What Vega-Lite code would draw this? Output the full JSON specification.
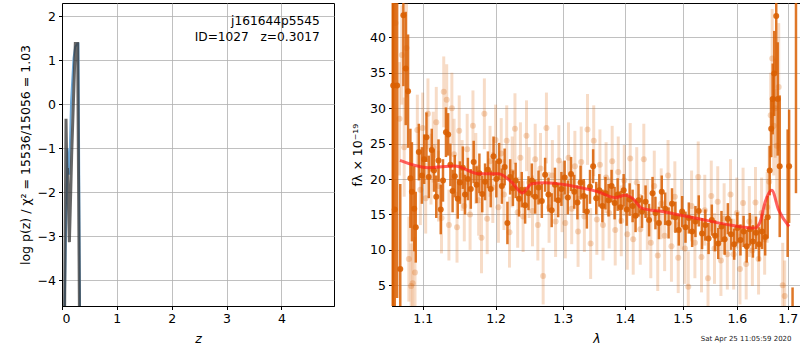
{
  "$schema": "https://vega.github.io/schema/vega-lite/v6.json",
  "padding": {"left": 18, "top": 1, "right": 1, "bottom": 2},
  "spacing": 16,
  "title": {"text": "Sat Apr 25 11:05:59 2020", "orient": "bottom", "anchor": "end", "fontSize": 7, "fontWeight": "normal", "font": "DejaVu Sans", "color": "#222222", "offset": -10, "dx": -10},
  "config": {
    "font": "DejaVu Sans",
    "view": {"stroke": "black", "strokeWidth": 1},
    "axis": {"labelFontSize": 12.5, "titleFontSize": 12.5, "labelColor": "black", "titleColor": "black", "titleFontWeight": "normal", "tickColor": "black", "domainColor": "black", "gridColor": "#b0b0b0", "gridWidth": 0.8, "tickSize": 3.5, "labelPadding": 3, "labelFont": "DejaVu Sans", "titleFont": "DejaVu Sans"}
  },
  "datasets": {
    "pzblue": [
      {"z": 0.03, "lp": -6}, {"z": 0.07, "lp": -3.1}, {"z": 0.1, "lp": -1.0}, {"z": 0.13, "lp": -1.6}, {"z": 0.165, "lp": 0.05}, {"z": 0.21, "lp": 1.05}, {"z": 0.24, "lp": 1.3}, {"z": 0.28, "lp": 1.38}, {"z": 0.30, "lp": 1.38}, {"z": 0.335, "lp": -6}
    ],
    "pzdark": [
      {"z": 0.04, "lp": -6}, {"z": 0.073, "lp": -0.33}, {"z": 0.09, "lp": -1.6}, {"z": 0.1, "lp": -1.45}, {"z": 0.135, "lp": -3.13}, {"z": 0.165, "lp": -1.7}, {"z": 0.176, "lp": -1.16}, {"z": 0.243, "lp": 1.38}, {"z": 0.285, "lp": 1.38}, {"z": 0.325, "lp": -6}
    ],
    "labels": [
      {"z": 4.7, "lp": 1.89, "t": "j161644p5545"},
      {"z": 4.7, "lp": 1.53, "t": "ID=1027\u00a0\u00a0\u00a0z=0.3017"}
    ],
    "model": [
      {"lam": 1.0706, "f": 22.64}, {"lam": 1.1075, "f": 21.6}, {"lam": 1.143, "f": 21.84}, {"lam": 1.176, "f": 20.75}, {"lam": 1.204, "f": 20.75}, {"lam": 1.223, "f": 19.58}, {"lam": 1.239, "f": 18.03}, {"lam": 1.253, "f": 19.34}, {"lam": 1.273, "f": 19.48}, {"lam": 1.304, "f": 19.2}, {"lam": 1.335, "f": 18.64}, {"lam": 1.357, "f": 18.17}, {"lam": 1.384, "f": 17.37}, {"lam": 1.4, "f": 17.7}, {"lam": 1.414, "f": 17.2}, {"lam": 1.428, "f": 15.9}, {"lam": 1.468, "f": 15.35}, {"lam": 1.529, "f": 14.4}, {"lam": 1.59, "f": 13.47}, {"lam": 1.635, "f": 13.09}, {"lam": 1.645, "f": 13.93}, {"lam": 1.655, "f": 16.76}, {"lam": 1.668, "f": 18.4}, {"lam": 1.682, "f": 15.6}, {"lam": 1.703, "f": 13.3}
    ],
    "offbars": [
      {"lam": 1.0615, "f": 30, "err": 40}, {"lam": 1.7, "f": 18, "err": 9}, {"lam": 1.71, "f": 3.2, "err": 1.5}, {"lam": 1.717, "f": 50, "err": 32}
    ],
    "dark": [
      {"lam": 1.062, "f": 33.2, "err": 40}, {"lam": 1.064, "f": 15.7, "err": 40}, {"lam": 1.067, "f": 33.2, "err": 30}, {"lam": 1.071, "f": 7.3, "err": 12}, {"lam": 1.075, "f": 43.1, "err": 10}, {"lam": 1.078, "f": 35.6, "err": 8}, {"lam": 1.081, "f": 32.4, "err": 8}, {"lam": 1.084, "f": 20.1, "err": 7}, {"lam": 1.086, "f": 18.2, "err": 7}, {"lam": 1.089, "f": 15.8, "err": 6}, {"lam": 1.091, "f": 13.2, "err": 5},
      {"lam": 1.095, "f": 23.8, "err": 4}, {"lam": 1.099, "f": 20.5, "err": 4}, {"lam": 1.102, "f": 22.8, "err": 3.5}, {"lam": 1.105, "f": 25.9, "err": 3.5}, {"lam": 1.108, "f": 20.3, "err": 3}, {"lam": 1.112, "f": 24.1, "err": 3}, {"lam": 1.115, "f": 21.2, "err": 3}, {"lam": 1.118, "f": 17.5, "err": 3}, {"lam": 1.121, "f": 22.6, "err": 3}, {"lam": 1.124, "f": 15.7, "err": 3.5}, {"lam": 1.127, "f": 19.8, "err": 3}, {"lam": 1.131, "f": 26.6, "err": 3.5}, {"lam": 1.134, "f": 26.3, "err": 3}, {"lam": 1.137, "f": 22.0, "err": 3}, {"lam": 1.14, "f": 18.3, "err": 3}, {"lam": 1.143, "f": 20.4, "err": 3}, {"lam": 1.147, "f": 17.2, "err": 2.8}, {"lam": 1.15, "f": 19.5, "err": 3}, {"lam": 1.154, "f": 21.6, "err": 3}, {"lam": 1.157, "f": 17.8, "err": 2.8}, {"lam": 1.161, "f": 20.0, "err": 3}, {"lam": 1.165, "f": 18.6, "err": 2.8}, {"lam": 1.169, "f": 22.4, "err": 3}, {"lam": 1.173, "f": 19.2, "err": 2.6}, {"lam": 1.177, "f": 20.8, "err": 2.8}, {"lam": 1.181, "f": 17.9, "err": 2.6}, {"lam": 1.185, "f": 19.6, "err": 2.6}, {"lam": 1.189, "f": 21.3, "err": 2.6}, {"lam": 1.193, "f": 18.6, "err": 2.6}, {"lam": 1.197, "f": 23.2, "err": 2.8}, {"lam": 1.201, "f": 20.0, "err": 2.6}, {"lam": 1.205, "f": 22.5, "err": 2.6}, {"lam": 1.209, "f": 19.0, "err": 2.5}, {"lam": 1.213, "f": 21.7, "err": 2.6}, {"lam": 1.217, "f": 13.8, "err": 3}, {"lam": 1.221, "f": 20.3, "err": 2.5}, {"lam": 1.225, "f": 18.7, "err": 2.5}, {"lam": 1.229, "f": 19.8, "err": 2.5}, {"lam": 1.234, "f": 17.2, "err": 2.5}, {"lam": 1.238, "f": 18.5, "err": 2.5}, {"lam": 1.243, "f": 16.3, "err": 2.6}, {"lam": 1.248, "f": 18.0, "err": 2.4}, {"lam": 1.253, "f": 19.8, "err": 2.4}, {"lam": 1.258, "f": 17.5, "err": 2.4}, {"lam": 1.263, "f": 18.8, "err": 2.4}, {"lam": 1.268, "f": 16.9, "err": 2.4}, {"lam": 1.273, "f": 20.6, "err": 2.4}, {"lam": 1.278, "f": 17.8, "err": 2.4}, {"lam": 1.283, "f": 15.6, "err": 2.4}, {"lam": 1.288, "f": 19.2, "err": 2.4}, {"lam": 1.293, "f": 17.0, "err": 2.4}, {"lam": 1.298, "f": 18.6, "err": 2.4}, {"lam": 1.303, "f": 20.2, "err": 2.4}, {"lam": 1.308, "f": 17.4, "err": 2.4}, {"lam": 1.313, "f": 20.7, "err": 2.4}, {"lam": 1.318, "f": 18.2, "err": 2.4}, {"lam": 1.323, "f": 16.7, "err": 2.4}, {"lam": 1.328, "f": 19.5, "err": 2.4}, {"lam": 1.333, "f": 17.6, "err": 2.4}, {"lam": 1.338, "f": 15.4, "err": 2.4}, {"lam": 1.343, "f": 18.9, "err": 2.4}, {"lam": 1.348, "f": 21.8, "err": 2.4}, {"lam": 1.353, "f": 17.3, "err": 2.3}, {"lam": 1.358, "f": 18.4, "err": 2.3}, {"lam": 1.363, "f": 16.2, "err": 2.3}, {"lam": 1.368, "f": 18.0, "err": 2.3}, {"lam": 1.373, "f": 17.0, "err": 2.3}, {"lam": 1.378, "f": 19.0, "err": 2.3}, {"lam": 1.383, "f": 16.6, "err": 2.3}, {"lam": 1.388, "f": 17.8, "err": 2.3}, {"lam": 1.393, "f": 16.0, "err": 2.3}, {"lam": 1.398, "f": 18.4, "err": 2.3}, {"lam": 1.403, "f": 15.7, "err": 2.3}, {"lam": 1.408, "f": 17.1, "err": 2.3}, {"lam": 1.413, "f": 16.2, "err": 2.3}, {"lam": 1.418, "f": 14.8, "err": 2.3}, {"lam": 1.423, "f": 17.0, "err": 2.3}, {"lam": 1.429, "f": 15.4, "err": 2.3}, {"lam": 1.435, "f": 16.8, "err": 2.3}, {"lam": 1.441, "f": 14.2, "err": 2.3}, {"lam": 1.447, "f": 18.0, "err": 2.3}, {"lam": 1.452, "f": 15.2, "err": 2.3}, {"lam": 1.458, "f": 13.8, "err": 2.3}, {"lam": 1.463, "f": 18.2, "err": 2.3}, {"lam": 1.469, "f": 15.8, "err": 2.3}, {"lam": 1.475, "f": 13.8, "err": 2.2}, {"lam": 1.481, "f": 16.5, "err": 2.2}, {"lam": 1.487, "f": 14.6, "err": 2.2}, {"lam": 1.493, "f": 12.8, "err": 2.2}, {"lam": 1.499, "f": 15.4, "err": 2.2}, {"lam": 1.505, "f": 13.2, "err": 2.2}, {"lam": 1.511, "f": 14.5, "err": 2.2}, {"lam": 1.517, "f": 12.6, "err": 2.2}, {"lam": 1.523, "f": 14.0, "err": 2.2}, {"lam": 1.529, "f": 15.5, "err": 2.2}, {"lam": 1.535, "f": 12.3, "err": 2.2}, {"lam": 1.541, "f": 13.5, "err": 2.2}, {"lam": 1.547, "f": 11.6, "err": 2.2}, {"lam": 1.553, "f": 14.2, "err": 2.2}, {"lam": 1.559, "f": 12.0, "err": 2.2}, {"lam": 1.565, "f": 10.9, "err": 2.2}, {"lam": 1.571, "f": 13.3, "err": 2.2}, {"lam": 1.577, "f": 11.5, "err": 2.2}, {"lam": 1.583, "f": 14.4, "err": 2.2}, {"lam": 1.589, "f": 12.2, "err": 2.2}, {"lam": 1.595, "f": 10.8, "err": 2.2}, {"lam": 1.601, "f": 13.1, "err": 2.2}, {"lam": 1.607, "f": 11.4, "err": 2.2}, {"lam": 1.613, "f": 12.6, "err": 2.2}, {"lam": 1.619, "f": 10.5, "err": 2.3}, {"lam": 1.625, "f": 12.9, "err": 2.3}, {"lam": 1.631, "f": 11.2, "err": 2.3}, {"lam": 1.637, "f": 12.4, "err": 2.3}, {"lam": 1.643, "f": 10.8, "err": 2.4}, {"lam": 1.649, "f": 12.6, "err": 2.5}, {"lam": 1.655, "f": 11.8, "err": 2.6}, {"lam": 1.66, "f": 14.6, "err": 3}, {"lam": 1.664, "f": 21.2, "err": 3.5}, {"lam": 1.667, "f": 27.1, "err": 4}, {"lam": 1.67, "f": 31.3, "err": 5}, {"lam": 1.673, "f": 34.9, "err": 6}, {"lam": 1.677, "f": 43.0, "err": 8}, {"lam": 1.68, "f": 31.3, "err": 8}, {"lam": 1.684, "f": 21.8, "err": 10}, {"lam": 1.703, "f": 21.8, "err": 8}
    ],
    "light": [
      {"lam": 1.065, "f": 42, "err": 8}, {"lam": 1.07, "f": 28.5, "err": 8}, {"lam": 1.073, "f": 37.5, "err": 7}, {"lam": 1.076, "f": 24.5, "err": 7}, {"lam": 1.079, "f": 38.5, "err": 7}, {"lam": 1.082, "f": 8.7, "err": 6}, {"lam": 1.085, "f": 4.9, "err": 6}, {"lam": 1.087, "f": 5.3, "err": 6}, {"lam": 1.09, "f": 6.8, "err": 5}, {"lam": 1.093, "f": 26.9, "err": 5}, {"lam": 1.097, "f": 18.5, "err": 5}, {"lam": 1.1, "f": 27.2, "err": 5}, {"lam": 1.104, "f": 17.3, "err": 5}, {"lam": 1.107, "f": 29.2, "err": 5}, {"lam": 1.111, "f": 21.4, "err": 5}, {"lam": 1.114, "f": 24.5, "err": 5}, {"lam": 1.118, "f": 28.0, "err": 5}, {"lam": 1.121, "f": 19.0, "err": 5}, {"lam": 1.125, "f": 14.5, "err": 5}, {"lam": 1.128, "f": 32.3, "err": 5}, {"lam": 1.132, "f": 31.2, "err": 5}, {"lam": 1.135, "f": 13.5, "err": 5}, {"lam": 1.139, "f": 30.0, "err": 5}, {"lam": 1.142, "f": 23.5, "err": 5}, {"lam": 1.146, "f": 13.2, "err": 5}, {"lam": 1.149, "f": 26.8, "err": 5}, {"lam": 1.153, "f": 20.5, "err": 5}, {"lam": 1.156, "f": 16.2, "err": 5}, {"lam": 1.16, "f": 24.2, "err": 5}, {"lam": 1.164, "f": 15.0, "err": 5}, {"lam": 1.168, "f": 27.5, "err": 5}, {"lam": 1.172, "f": 21.5, "err": 5}, {"lam": 1.176, "f": 17.0, "err": 5}, {"lam": 1.18, "f": 11.7, "err": 5}, {"lam": 1.184, "f": 29.2, "err": 5}, {"lam": 1.188, "f": 14.4, "err": 5}, {"lam": 1.192, "f": 22.5, "err": 5}, {"lam": 1.196, "f": 18.8, "err": 5}, {"lam": 1.2, "f": 25.5, "err": 5}, {"lam": 1.204, "f": 16.0, "err": 5}, {"lam": 1.208, "f": 23.6, "err": 5}, {"lam": 1.212, "f": 17.8, "err": 5}, {"lam": 1.216, "f": 25.4, "err": 5}, {"lam": 1.22, "f": 12.5, "err": 5}, {"lam": 1.224, "f": 21.0, "err": 5}, {"lam": 1.228, "f": 27.1, "err": 5}, {"lam": 1.232, "f": 15.3, "err": 5}, {"lam": 1.236, "f": 23.0, "err": 5}, {"lam": 1.24, "f": 14.7, "err": 5}, {"lam": 1.245, "f": 26.1, "err": 5}, {"lam": 1.249, "f": 19.5, "err": 5}, {"lam": 1.254, "f": 15.5, "err": 5}, {"lam": 1.258, "f": 22.8, "err": 5}, {"lam": 1.262, "f": 13.5, "err": 5}, {"lam": 1.266, "f": 21.5, "err": 5}, {"lam": 1.27, "f": 6.3, "err": 4}, {"lam": 1.275, "f": 27.2, "err": 5}, {"lam": 1.279, "f": 16.0, "err": 5}, {"lam": 1.284, "f": 20.5, "err": 5}, {"lam": 1.289, "f": 14.0, "err": 5}, {"lam": 1.294, "f": 22.6, "err": 5}, {"lam": 1.299, "f": 17.5, "err": 5}, {"lam": 1.304, "f": 13.8, "err": 5}, {"lam": 1.309, "f": 23.0, "err": 5}, {"lam": 1.314, "f": 15.8, "err": 5}, {"lam": 1.319, "f": 21.8, "err": 5}, {"lam": 1.324, "f": 12.6, "err": 5}, {"lam": 1.329, "f": 22.4, "err": 5}, {"lam": 1.334, "f": 14.7, "err": 5}, {"lam": 1.339, "f": 27.0, "err": 5}, {"lam": 1.344, "f": 10.9, "err": 5}, {"lam": 1.349, "f": 25.4, "err": 5}, {"lam": 1.354, "f": 14.3, "err": 5}, {"lam": 1.359, "f": 22.0, "err": 5}, {"lam": 1.364, "f": 13.5, "err": 5}, {"lam": 1.369, "f": 20.2, "err": 5}, {"lam": 1.374, "f": 15.2, "err": 5}, {"lam": 1.379, "f": 22.5, "err": 5}, {"lam": 1.384, "f": 12.8, "err": 5}, {"lam": 1.389, "f": 21.0, "err": 5}, {"lam": 1.394, "f": 14.1, "err": 5}, {"lam": 1.399, "f": 19.8, "err": 5}, {"lam": 1.404, "f": 12.2, "err": 5}, {"lam": 1.409, "f": 22.9, "err": 5}, {"lam": 1.414, "f": 11.5, "err": 5}, {"lam": 1.42, "f": 19.5, "err": 5}, {"lam": 1.426, "f": 12.9, "err": 5}, {"lam": 1.432, "f": 22.8, "err": 5}, {"lam": 1.438, "f": 15.0, "err": 5}, {"lam": 1.444, "f": 11.0, "err": 5}, {"lam": 1.45, "f": 19.0, "err": 5}, {"lam": 1.456, "f": 9.2, "err": 5}, {"lam": 1.462, "f": 16.5, "err": 5}, {"lam": 1.468, "f": 12.0, "err": 5}, {"lam": 1.474, "f": 20.5, "err": 5}, {"lam": 1.48, "f": 10.5, "err": 5}, {"lam": 1.486, "f": 17.5, "err": 5}, {"lam": 1.492, "f": 8.9, "err": 5}, {"lam": 1.498, "f": 15.0, "err": 5}, {"lam": 1.504, "f": 10.2, "err": 5}, {"lam": 1.51, "f": 4.8, "err": 5}, {"lam": 1.516, "f": 16.2, "err": 5}, {"lam": 1.522, "f": 11.0, "err": 5}, {"lam": 1.528, "f": 20.3, "err": 5}, {"lam": 1.534, "f": 9.0, "err": 5}, {"lam": 1.54, "f": 15.6, "err": 5}, {"lam": 1.546, "f": 6.0, "err": 5}, {"lam": 1.552, "f": 17.6, "err": 5}, {"lam": 1.558, "f": 10.2, "err": 5}, {"lam": 1.564, "f": 16.8, "err": 5}, {"lam": 1.57, "f": 8.5, "err": 5}, {"lam": 1.576, "f": 14.4, "err": 5}, {"lam": 1.582, "f": 9.4, "err": 5}, {"lam": 1.588, "f": 17.8, "err": 5}, {"lam": 1.594, "f": 9.4, "err": 5}, {"lam": 1.6, "f": 15.2, "err": 5}, {"lam": 1.606, "f": 7.3, "err": 5}, {"lam": 1.612, "f": 16.6, "err": 5}, {"lam": 1.618, "f": 8.0, "err": 5}, {"lam": 1.624, "f": 14.0, "err": 5}, {"lam": 1.63, "f": 9.9, "err": 5}, {"lam": 1.636, "f": 16.7, "err": 5}, {"lam": 1.642, "f": 8.7, "err": 5}, {"lam": 1.648, "f": 15.2, "err": 5}, {"lam": 1.654, "f": 11.5, "err": 5}, {"lam": 1.659, "f": 16.0, "err": 5}, {"lam": 1.663, "f": 19.6, "err": 5}, {"lam": 1.666, "f": 29.0, "err": 6}, {"lam": 1.669, "f": 37.0, "err": 7}, {"lam": 1.672, "f": 27.5, "err": 7}, {"lam": 1.675, "f": 30.0, "err": 7}, {"lam": 1.678, "f": 24.7, "err": 8}, {"lam": 1.682, "f": 33.0, "err": 9}, {"lam": 1.69, "f": 5.0, "err": 6}, {"lam": 1.694, "f": 3.5, "err": 5}
    ]
  },
  "hconcat": [
    {
      "width": 272,
      "height": 303,
      "encoding": {
        "x": {"field": "z", "type": "quantitative", "scale": {"domain": [0, 4.96], "nice": false}, "axis": {"values": [0, 1, 2, 3, 4], "titleFontStyle": "italic", "titlePadding": 7}, "title": "z"},
        "y": {"field": "lp", "type": "quantitative", "scale": {"domain": [-4.58, 2.3], "nice": false, "zero": false}, "axis": {"values": [-4, -3, -2, -1, 0, 1, 2], "titlePadding": 5}, "title": "log p(z) / χ² = 15536/15056 = 1.03"}
      },
      "layer": [
        {
          "data": {"name": "pzblue"},
          "mark": {"type": "line", "color": "#6fa8d6", "strokeWidth": 2, "clip": true}
        },
        {
          "data": {"name": "pzdark"},
          "mark": {"type": "line", "color": "#333333", "strokeWidth": 3, "opacity": 0.75, "clip": true}
        },
        {
          "data": {"name": "labels"},
          "mark": {"type": "text", "align": "right", "baseline": "middle", "fontSize": 12.2, "color": "black"},
          "encoding": {"text": {"field": "t"}}
        }
      ]
    },
    {
      "width": 409,
      "height": 303,
      "encoding": {
        "x": {"field": "lam", "type": "quantitative", "scale": {"type": "log", "domain": [1.0605, 1.7273], "nice": false}, "axis": {"values": [1.1, 1.2, 1.3, 1.4, 1.5, 1.6, 1.7], "format": ".1f", "titleFontStyle": "italic", "titlePadding": 7}, "title": "λ"},
        "y": {"field": "f", "type": "quantitative", "scale": {"domain": [2.08, 44.84], "nice": false, "zero": false, "clamp": true}, "axis": {"values": [5, 10, 15, 20, 25, 30, 35, 40], "titlePadding": 5}, "title": "fλ × 10⁻¹⁹"}
      },
      "layer": [
        {
          "data": {"name": "light"},
          "mark": {"type": "errorbar", "color": "#d95f02", "opacity": 0.22, "thickness": 3},
          "encoding": {"yError": {"field": "err"}}
        },
        {
          "data": {"name": "light"},
          "mark": {"type": "point", "filled": true, "color": "#d95f02", "opacity": 0.25, "size": 36}
        },
        {
          "data": {"name": "offbars"},
          "mark": {"type": "errorbar", "color": "#d95f02", "opacity": 0.85, "thickness": 2.5},
          "encoding": {"yError": {"field": "err"}}
        },
        {
          "data": {"name": "dark"},
          "mark": {"type": "errorbar", "color": "#d95f02", "opacity": 0.85, "thickness": 2.5},
          "encoding": {"yError": {"field": "err"}}
        },
        {
          "data": {"name": "dark"},
          "mark": {"type": "point", "filled": true, "color": "#d95f02", "opacity": 0.9, "size": 36}
        },
        {
          "data": {"name": "model"},
          "mark": {"type": "line", "color": "#ff2020", "opacity": 0.7, "strokeWidth": 3, "interpolate": "monotone", "clip": true}
        }
      ]
    }
  ]
}
